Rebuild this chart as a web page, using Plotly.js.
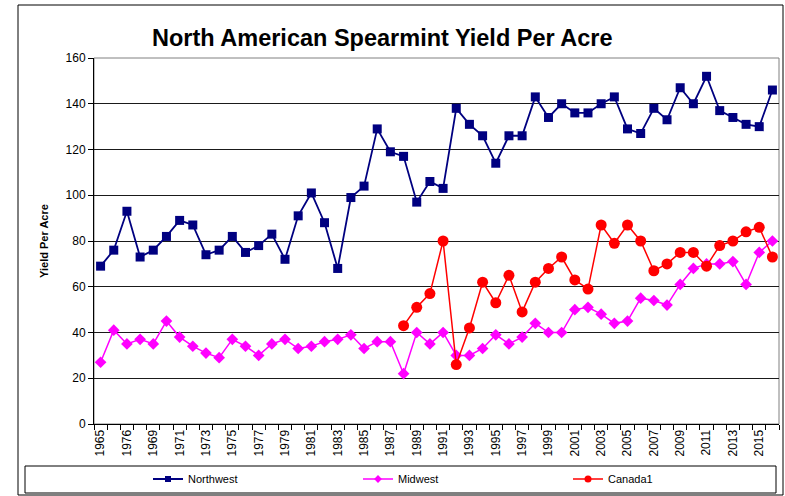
<!DOCTYPE html>
<html>
<head>
<meta charset="utf-8">
<script src="https://cdn.plot.ly/plotly-3.0.1.min.js"></script>
<style>
html,body{margin:0;padding:0;background:#fff;}
#chart{width:785px;height:496px;}
</style>
</head>
<body>
<div id="chart"></div>
<script>
const years = [1965,1966,1967,1968,1969,1970,1971,1972,1973,1974,1975,1976,1977,1978,1979,1980,1981,1982,1983,1984,1985,1986,1987,1988,1989,1990,1991,1992,1993,1994,1995,1996,1997,1998,1999,2000,2001,2002,2003,2004,2005,2006,2007,2008,2009,2010,2011,2012,2013,2014,2015,2016];
const yearLabels = ["1965","1966","1976","1968","1969","1970","1971","1972","1973","1974","1975","1976","1977","1978","1979","1980","1981","1982","1983","1984","1985","1986","1987","1988","1989","1990","1991","1992","1993","1994","1995","1996","1997","1998","1999","2000","2001","2002","2003","2004","2005","2006","2007","2008","2009","2010","2011","2012","2013","2014","2015","2016"];
const northwest = [69,76,93,73,76,82,89,87,74,76,82,75,78,83,72,91,101,88,68,99,104,129,119,117,97,106,103,138,131,126,114,126,126,143,134,140,136,136,140,143,129,127,138,133,147,140,152,137,134,131,130,146];
const midwest = [27,41,35,37,35,45,38,34,31,29,37,34,30,35,37,33,34,36,37,39,33,36,36,22,40,35,40,30,30,33,39,35,38,44,40,40,50,51,48,44,45,55,54,52,61,68,70,70,71,61,75,80];
const canada1 = [null,null,null,null,null,null,null,null,null,null,null,null,null,null,null,null,null,null,null,null,null,null,null,43,51,57,80,26,42,62,53,65,49,62,68,73,63,59,87,79,87,80,67,70,75,75,69,78,80,84,86,73];
const seriesNames = ["Northwest","Midwest","Canada1"];
const yTicks = [0,20,40,60,80,100,120,140,160];

const tickIdx = years.map((y,i)=>i).filter(i=>i%2===0);

const styles = [
  {line:{color:'#000080', width:1.8}, marker:{symbol:'square', size:9, color:'#000080'}, legMarker:{symbol:'square', size:6, color:'#000080'}},
  {line:{color:'#FF00FF', width:1.5}, marker:{symbol:'diamond', size:9, color:'#FF00FF'}, legMarker:{symbol:'diamond', size:6, color:'#FF00FF'}},
  {line:{color:'#FF0000', width:1.5}, marker:{symbol:'circle', size:11, color:'#FF0000'}, legMarker:{symbol:'circle', size:7, color:'#FF0000'}}
];
const values = [northwest, midwest, canada1];

const traces = [];
values.forEach((vals, k) => {
  traces.push({x: years, y: vals, name: seriesNames[k], type:'scatter', mode:'lines+markers',
    line: styles[k].line, marker: styles[k].marker, showlegend: false, connectgaps: false});
});
values.forEach((vals, k) => {
  traces.push({x: [null], y: [null], name: seriesNames[k], type:'scatter', mode:'lines+markers',
    line: styles[k].line, marker: styles[k].legMarker, showlegend: true});
});

const L = 94, R = 779, T = 58, B = 424, W = 785, H = 496;
const px = v => (v - L) / (R - L);
const py = v => (B - v) / (B - T);

const layout = {
  width: W, height: H,
  margin: {l: L, r: W - R, t: T, b: H - B, pad: 0},
  paper_bgcolor: '#fff', plot_bgcolor: '#fff',
  font: {family: '"Liberation Sans", Arial, sans-serif', color: '#000', size: 11},
  title: {text: '<b>North American Spearmint Yield Per Acre</b>', font: {size: 23.5, color:'#000'},
          x: 0.487, xanchor: 'center', y: 1 - 38/H, yanchor: 'middle', xref:'container', yref:'container'},
  xaxis: {
    range: [1964.5, 2016.5], showgrid: false, zeroline: false, automargin: false,
    showline: true, linecolor: '#000', linewidth: 1,
    tickmode: 'array', tickvals: tickIdx.map(i=>years[i]), ticktext: tickIdx.map(i=>yearLabels[i]),
    ticks: '', tickangle: -90, tickfont: {size: 12},
    minor: {tick0: 1964.5, dtick: 1, ticks: 'outside', ticklen: 5, tickcolor: '#000', tickwidth: 1, showgrid: false}
  },
  yaxis: {
    range: [0, 160], tickvals: yTicks, showgrid: true, gridcolor: '#1a1a1a', gridwidth: 1,
    zeroline: false, showline: true, linecolor: '#000', linewidth: 1, automargin: false,
    ticks: 'outside', ticklen: 5, tickcolor: '#000', tickfont: {size: 12},
    title: {text: '<b>Yield Per Acre</b>', font: {size: 11}, standoff: 14}
  },
  showlegend: true,
  legend: {orientation: 'h', x: 148/W, xanchor: 'left', y: 1 - 479/H, yanchor: 'middle',
           xref: 'container', yref: 'container', entrywidth: 165, entrywidthmode: 'pixels',
           bgcolor: 'rgba(0,0,0,0)', font: {size: 11}, tracegroupgap: 0},
  shapes: [
    {type:'rect', xref:'paper', yref:'paper', x0: 0, x1: 1, y0: 0, y1: 1, line:{color:'#808080', width:1}, layer:'below'},
    {type:'rect', xref:'paper', yref:'paper', x0: px(25), x1: px(776), y0: py(466), y1: py(493), line:{color:'#000', width:1}},
    {type:'rect', xref:'paper', yref:'paper', x0: px(18), x1: px(783), y0: py(5), y1: py(495), line:{color:'#000', width:1}}
  ]
};

Plotly.newPlot('chart', traces, layout, {displayModeBar: false, staticPlot: true});
</script>
</body>
</html>
